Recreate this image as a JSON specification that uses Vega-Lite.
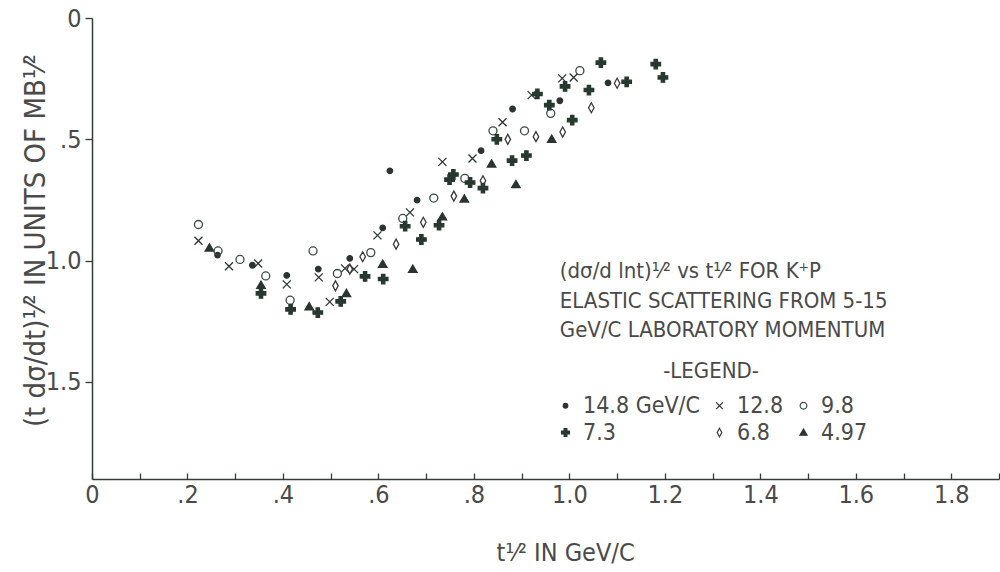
{
  "$schema": "https://vega.github.io/schema/vega-lite/v6.json",
  "width": 907,
  "height": 461,
  "autosize": {"type": "none"},
  "padding": {"left": 92, "top": 18, "right": 1, "bottom": 93},
  "background": "white",
  "config": {
    "view": {"stroke": null},
    "font": "Liberation Sans Narrow, DejaVu Sans Condensed, sans-serif"
  },
  "data": {
    "values": [
      {"p": "14.8", "t": 0.263, "s": 0.977},
      {"p": "14.8", "t": 0.336, "s": 1.019},
      {"p": "14.8", "t": 0.408, "s": 1.061},
      {"p": "14.8", "t": 0.474, "s": 1.035},
      {"p": "14.8", "t": 0.540, "s": 0.991},
      {"p": "14.8", "t": 0.609, "s": 0.865},
      {"p": "14.8", "t": 0.624, "s": 0.630},
      {"p": "14.8", "t": 0.681, "s": 0.751},
      {"p": "14.8", "t": 0.815, "s": 0.547},
      {"p": "14.8", "t": 0.881, "s": 0.375},
      {"p": "14.8", "t": 0.980, "s": 0.341},
      {"p": "14.8", "t": 1.081, "s": 0.267},
      {"p": "12.8", "t": 0.223, "s": 0.918},
      {"p": "12.8", "t": 0.287, "s": 1.023},
      {"p": "12.8", "t": 0.348, "s": 1.012},
      {"p": "12.8", "t": 0.408, "s": 1.098},
      {"p": "12.8", "t": 0.475, "s": 1.069},
      {"p": "12.8", "t": 0.498, "s": 1.170},
      {"p": "12.8", "t": 0.530, "s": 1.032},
      {"p": "12.8", "t": 0.549, "s": 1.035},
      {"p": "12.8", "t": 0.598, "s": 0.896},
      {"p": "12.8", "t": 0.666, "s": 0.801},
      {"p": "12.8", "t": 0.734, "s": 0.593},
      {"p": "12.8", "t": 0.797, "s": 0.579},
      {"p": "12.8", "t": 0.860, "s": 0.430},
      {"p": "12.8", "t": 0.921, "s": 0.318},
      {"p": "12.8", "t": 0.985, "s": 0.249},
      {"p": "12.8", "t": 1.009, "s": 0.245},
      {"p": "9.8", "t": 0.223, "s": 0.851},
      {"p": "9.8", "t": 0.264, "s": 0.960},
      {"p": "9.8", "t": 0.310, "s": 0.995},
      {"p": "9.8", "t": 0.364, "s": 1.063},
      {"p": "9.8", "t": 0.415, "s": 1.163},
      {"p": "9.8", "t": 0.463, "s": 0.960},
      {"p": "9.8", "t": 0.514, "s": 1.053},
      {"p": "9.8", "t": 0.584, "s": 0.967},
      {"p": "9.8", "t": 0.651, "s": 0.826},
      {"p": "9.8", "t": 0.716, "s": 0.742},
      {"p": "9.8", "t": 0.781, "s": 0.661},
      {"p": "9.8", "t": 0.840, "s": 0.465},
      {"p": "9.8", "t": 0.906, "s": 0.465},
      {"p": "9.8", "t": 0.961, "s": 0.393},
      {"p": "9.8", "t": 1.022, "s": 0.217},
      {"p": "7.3", "t": 0.354, "s": 1.135},
      {"p": "7.3", "t": 0.416, "s": 1.201},
      {"p": "7.3", "t": 0.473, "s": 1.214},
      {"p": "7.3", "t": 0.521, "s": 1.168},
      {"p": "7.3", "t": 0.572, "s": 1.065},
      {"p": "7.3", "t": 0.610, "s": 1.076},
      {"p": "7.3", "t": 0.656, "s": 0.858},
      {"p": "7.3", "t": 0.690, "s": 0.913},
      {"p": "7.3", "t": 0.727, "s": 0.854},
      {"p": "7.3", "t": 0.757, "s": 0.645},
      {"p": "7.3", "t": 0.749, "s": 0.666},
      {"p": "7.3", "t": 0.792, "s": 0.678},
      {"p": "7.3", "t": 0.819, "s": 0.701},
      {"p": "7.3", "t": 0.848, "s": 0.500},
      {"p": "7.3", "t": 0.880, "s": 0.588},
      {"p": "7.3", "t": 0.910, "s": 0.567},
      {"p": "7.3", "t": 0.933, "s": 0.313},
      {"p": "7.3", "t": 0.958, "s": 0.359},
      {"p": "7.3", "t": 0.991, "s": 0.282},
      {"p": "7.3", "t": 1.006, "s": 0.421},
      {"p": "7.3", "t": 1.041, "s": 0.297},
      {"p": "7.3", "t": 1.066, "s": 0.184},
      {"p": "7.3", "t": 1.120, "s": 0.263},
      {"p": "7.3", "t": 1.181, "s": 0.190},
      {"p": "7.3", "t": 1.196, "s": 0.245},
      {"p": "6.8", "t": 0.510, "s": 1.104},
      {"p": "6.8", "t": 0.540, "s": 1.035},
      {"p": "6.8", "t": 0.567, "s": 0.984},
      {"p": "6.8", "t": 0.637, "s": 0.932},
      {"p": "6.8", "t": 0.694, "s": 0.842},
      {"p": "6.8", "t": 0.758, "s": 0.734},
      {"p": "6.8", "t": 0.819, "s": 0.671},
      {"p": "6.8", "t": 0.871, "s": 0.500},
      {"p": "6.8", "t": 0.930, "s": 0.489},
      {"p": "6.8", "t": 0.986, "s": 0.470},
      {"p": "6.8", "t": 1.046, "s": 0.370},
      {"p": "6.8", "t": 1.100, "s": 0.269},
      {"p": "4.97", "t": 0.246, "s": 0.947},
      {"p": "4.97", "t": 0.354, "s": 1.101},
      {"p": "4.97", "t": 0.455, "s": 1.189},
      {"p": "4.97", "t": 0.533, "s": 1.135},
      {"p": "4.97", "t": 0.609, "s": 1.014},
      {"p": "4.97", "t": 0.672, "s": 1.035},
      {"p": "4.97", "t": 0.734, "s": 0.819},
      {"p": "4.97", "t": 0.780, "s": 0.745},
      {"p": "4.97", "t": 0.837, "s": 0.601},
      {"p": "4.97", "t": 0.888, "s": 0.686},
      {"p": "4.97", "t": 0.963, "s": 0.499}
    ]
  },
  "layer": [
    {
      "mark": {"type": "point", "size": 100, "strokeWidth": 1.3, "opacity": 1},
      "encoding": {
        "x": {
          "field": "t", "type": "quantitative",
          "scale": {"domain": [0, 1.9], "nice": false, "zero": false},
          "axis": {
            "title": "t¹⁄²  IN GeV/C",
            "values": [0, 0.1, 0.2, 0.3, 0.4, 0.5, 0.6, 0.7, 0.8, 0.9, 1.0, 1.1, 1.2, 1.3, 1.4, 1.5, 1.6, 1.7, 1.8, 1.9],
            "labelExpr": "round(datum.value*10) % 2 != 0 ? '' : (datum.value == 0 ? '0' : replace(format(datum.value, '.1f'), '0.', '.'))",
            "labelOverlap": false,
            "labelFlush": false,
            "labelFontSize": 25,
            "labelColor": "#4a4a4a",
            "labelPadding": 9,
            "tickSize": -6,
            "tickColor": "#333d36",
            "tickWidth": 1.3,
            "domainColor": "#333d36",
            "domainWidth": 1.5,
            "grid": false,
            "titleFontSize": 25,
            "titleFontWeight": "normal",
            "titleColor": "#4a4a4a",
            "titleX": 473,
            "titleY": 81,
            "titleAlign": "center",
            "titleBaseline": "alphabetic"
          }
        },
        "y": {
          "field": "s", "type": "quantitative",
          "scale": {"domain": [0, 1.9], "nice": false, "zero": false, "reverse": true},
          "axis": {
            "title": "(t dσ/dt)¹⁄²    IN UNITS OF    MB¹⁄²",
            "values": [0, 0.5, 1.0, 1.5],
            "labelExpr": "datum.value == 0 ? '0' : replace(format(datum.value, '.1f'), '0.', '.')",
            "labelFlush": false,
            "labelFontSize": 25,
            "labelColor": "#4a4a4a",
            "labelPadding": 4,
            "tickSize": 7,
            "tickColor": "#333d36",
            "tickWidth": 1.3,
            "domainColor": "#333d36",
            "domainWidth": 1.5,
            "grid": false,
            "titleFontSize": 29,
            "titleFontWeight": "normal",
            "titleColor": "#4a4a4a",
            "titleAngle": -90,
            "titleX": -57,
            "titleY": 222,
            "titleAlign": "center",
            "titleBaseline": "middle"
          }
        },
        "shape": {
          "field": "p", "type": "nominal",
          "scale": {
            "domain": ["14.8", "12.8", "9.8", "7.3", "6.8", "4.97"],
            "range": [
              "M0.55,0A0.55,0.55,0,1,1,-0.55,0A0.55,0.55,0,1,1,0.55,0Z",
              "M-0.8,-0.8L0.8,0.8M-0.8,0.8L0.8,-0.8",
              "M0.8,0A0.8,0.8,0,1,1,-0.8,0A0.8,0.8,0,1,1,0.8,0Z",
              "M-0.95,-0.33L-0.33,-0.33L-0.33,-0.95L0.33,-0.95L0.33,-0.33L0.95,-0.33L0.95,0.33L0.33,0.33L0.33,0.95L-0.33,0.95L-0.33,0.33L-0.95,0.33Z",
              "M0,-1L0.55,0L0,1L-0.55,0Z",
              "M0,-0.8L0.85,0.65L-0.85,0.65Z"
            ]
          },
          "legend": {
            "title": "-LEGEND-",
            "orient": "none",
            "direction": "horizontal",
            "legendX": 462,
            "legendY": 343,
            "columns": 3,
            "titleAnchor": "middle",
            "titleFontSize": 22,
            "titleFontWeight": "normal",
            "titleColor": "#4a4a4a",
            "titlePadding": 11,
            "labelFontSize": 23,
            "labelColor": "#4a4a4a",
            "labelOffset": 6,
            "labelExpr": "datum.label == '14.8' ? '14.8 GeV/C' : datum.label",
            "symbolSize": 70,
            "symbolStrokeWidth": 1.2,
            "rowPadding": 3,
            "columnPadding": 8
          }
        },
        "fill": {
          "field": "p", "type": "nominal",
          "scale": {
            "domain": ["14.8", "12.8", "9.8", "7.3", "6.8", "4.97"],
            "range": ["#2b3430", "transparent", "transparent", "#27392f", "transparent", "#2b3430"]
          }
        },
        "stroke": {
          "field": "p", "type": "nominal",
          "scale": {
            "domain": ["14.8", "12.8", "9.8", "7.3", "6.8", "4.97"],
            "range": ["#2b3430", "#2b3430", "#3a4a3e", "#27392f", "#3a3a3a", "#2b3430"]
          }
        }
      }
    },
    {
      "data": {"values": [{}]},
      "mark": {
        "type": "text",
        "align": "left",
        "baseline": "alphabetic",
        "fontSize": 22,
        "lineHeight": 29.5,
        "color": "#4a4a4a",
        "text": ["(dσ/d lnt)¹⁄² vs t¹⁄² FOR K⁺P", "ELASTIC SCATTERING FROM 5-15", "GeV/C LABORATORY MOMENTUM"]
      },
      "encoding": {
        "x": {"datum": 0.98, "type": "quantitative"},
        "y": {"datum": 1.072, "type": "quantitative"}
      }
    }
  ]
}
